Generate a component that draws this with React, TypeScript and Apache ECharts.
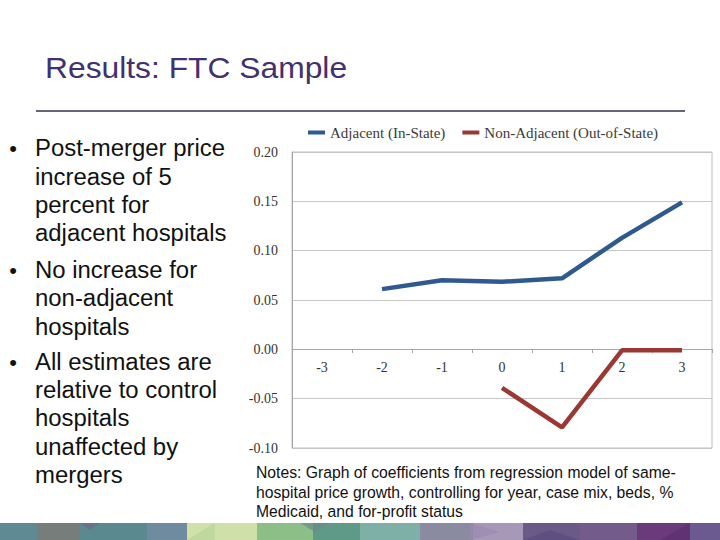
import React, { useEffect, useRef } from "react";
import * as echarts from "echarts";

const categories = ["-3", "-2", "-1", "0", "1", "2", "3"];
const adjacent = [null, 0.061, 0.07, 0.0685, 0.072, 0.113, 0.149];
const nonAdjacent = [null, null, null, -0.039, -0.079, -0.001, -0.001];
const seriesNames = ["Adjacent (In-State)", "Non-Adjacent (Out-of-State)"];
const titleText = "Results: FTC Sample";
const bullets = [
  ["Post-merger price", "increase of 5", "percent for", "adjacent hospitals"],
  ["No increase for", "non-adjacent", "hospitals"],
  ["All estimates are", "relative to control", "hospitals", "unaffected by", "mergers"],
];
const bulletLineY = [
  [148, 177, 205, 233],
  [270, 298, 327],
  [362, 390, 418, 447, 475],
];
const notes = [
  "Notes: Graph of coefficients from regression model of same-",
  "hospital price growth, controlling for year, case mix, beds, %",
  "Medicaid, and for-profit status",
];
const stripColors = [
  [0, 37, "#5f8a94"],
  [37, 80, "#777d7b"],
  [80, 147, "#5a8a8f"],
  [147, 187, "#6f8ba0"],
  [187, 257, "#cfe0a8"],
  [257, 313, "#8cbf88"],
  [313, 360, "#5f9a88"],
  [360, 420, "#7fb0a8"],
  [420, 473, "#8a8aa0"],
  [473, 523, "#a898b8"],
  [523, 580, "#6a5a88"],
  [580, 637, "#735c8c"],
  [637, 690, "#6a3a7a"],
  [690, 720, "#6a5a90"],
];

export default function App() {
  const ref = useRef<HTMLDivElement>(null);
  useEffect(() => {
    const chart = echarts.init(ref.current!, null, { renderer: "svg" });
    const graphic: any[] = [];
    graphic.push({
      type: "text",
      x: 45,
      y: 68,
      scaleX: 1.06,
      style: {
        text: titleText,
        font: "30px 'Liberation Sans', Arial, sans-serif",
        fill: "#43306f",
        textVerticalAlign: "middle",
        verticalAlign: "middle",
      },
    });
    graphic.push({
      type: "line",
      shape: { x1: 36, y1: 111, x2: 685, y2: 111 },
      style: { stroke: "#35304a", lineWidth: 1.5 },
    });
    bullets.forEach((group, gi) => {
      graphic.push({
        type: "text",
        x: 13,
        y: bulletLineY[gi][0],
        style: {
          text: "•",
          font: "22px 'Liberation Sans', Arial, sans-serif",
          fill: "#111",
          textAlign: "center",
          align: "center",
          textVerticalAlign: "middle",
          verticalAlign: "middle",
        },
      });
      group.forEach((line, li) => {
        graphic.push({
          type: "text",
          x: 35,
          y: bulletLineY[gi][li],
          scaleX: 1.04,
          style: {
            text: line,
            font: "23px 'Liberation Sans', Arial, sans-serif",
            fill: "#111",
            textVerticalAlign: "middle",
            verticalAlign: "middle",
          },
        });
      });
    });
    notes.forEach((line, i) => {
      graphic.push({
        type: "text",
        x: 256,
        y: 472 + i * 19.5,
        scaleX: 0.925,
        style: {
          text: line,
          font: "17px 'Liberation Sans', Arial, sans-serif",
          fill: "#111",
          textVerticalAlign: "middle",
          verticalAlign: "middle",
        },
      });
    });
    stripColors.forEach(([x0, x1, c]) => {
      graphic.push({
        type: "rect",
        shape: { x: x0 as number, y: 523, width: (x1 as number) - (x0 as number), height: 17 },
        style: { fill: c as string },
      });
    });
    const tris = [
      [[80, 523], [100, 523], [90, 530], "#6f6a86"],
      [[187, 540], [215, 523], [215, 540], "#b8d49a"],
      [[300, 523], [330, 523], [315, 532], "#6c8a86"],
      [[470, 523], [500, 532], [470, 540], "#9a8ab0"],
      [[523, 540], [550, 530], [580, 540], "#5b4a7e"],
      [[660, 540], [690, 523], [690, 540], "#5a2f70"],
    ];
    tris.forEach(([a, b, c, col]) => {
      graphic.push({
        type: "polygon",
        shape: { points: [a, b, c] },
        style: { fill: col as string, opacity: 0.7 },
      });
    });

    chart.setOption({
      animation: false,
      backgroundColor: "#ffffff",
      graphic,
      legend: {
        left: 303,
        top: 120,
        icon: "rect",
        itemWidth: 17,
        itemHeight: 4,
        itemGap: 17,
        textStyle: { fontFamily: "'Liberation Serif', serif", fontSize: 15, color: "#3a3a3a" },
        data: seriesNames,
      },
      grid: {
        left: 292,
        right: 8,
        top: 152,
        bottom: 92,
        show: true,
        borderColor: "#bdbdbd",
        borderWidth: 1,
      },
      xAxis: {
        type: "category",
        data: categories,
        boundaryGap: true,
        offset: -99,
        axisLine: { onZero: false, lineStyle: { color: "#a6a6a6" } },
        axisTick: { show: true, length: 4, lineStyle: { color: "#a6a6a6" } },
        axisLabel: {
          margin: 11,
          fontFamily: "'Liberation Serif', serif",
          fontSize: 14,
          color: "#333",
        },
      },
      yAxis: {
        type: "value",
        min: -0.1,
        max: 0.2,
        interval: 0.05,
        axisLine: { show: true, lineStyle: { color: "#a6a6a6" } },
        axisTick: { show: false },
        splitLine: { lineStyle: { color: "#c6c6c6" } },
        axisLabel: {
          margin: 14,
          fontFamily: "'Liberation Serif', serif",
          fontSize: 14,
          color: "#333",
          formatter: (v: number) => v.toFixed(2),
        },
      },
      series: [
        {
          name: seriesNames[0],
          type: "line",
          data: adjacent,
          showSymbol: false,
          symbol: "none",
          lineStyle: { width: 4.5, color: "#2e5a8f" },
          itemStyle: { color: "#2e5a8f" },
        },
        {
          name: seriesNames[1],
          type: "line",
          data: nonAdjacent,
          showSymbol: false,
          symbol: "none",
          lineStyle: { width: 4.5, color: "#9b3834" },
          itemStyle: { color: "#9b3834" },
        },
      ],
    });
    return () => chart.dispose();
  }, []);
  return (
    <div
      ref={ref}
      style={{ position: "absolute", left: 0, top: 0, width: 720, height: 540 }}
    />
  );
}
